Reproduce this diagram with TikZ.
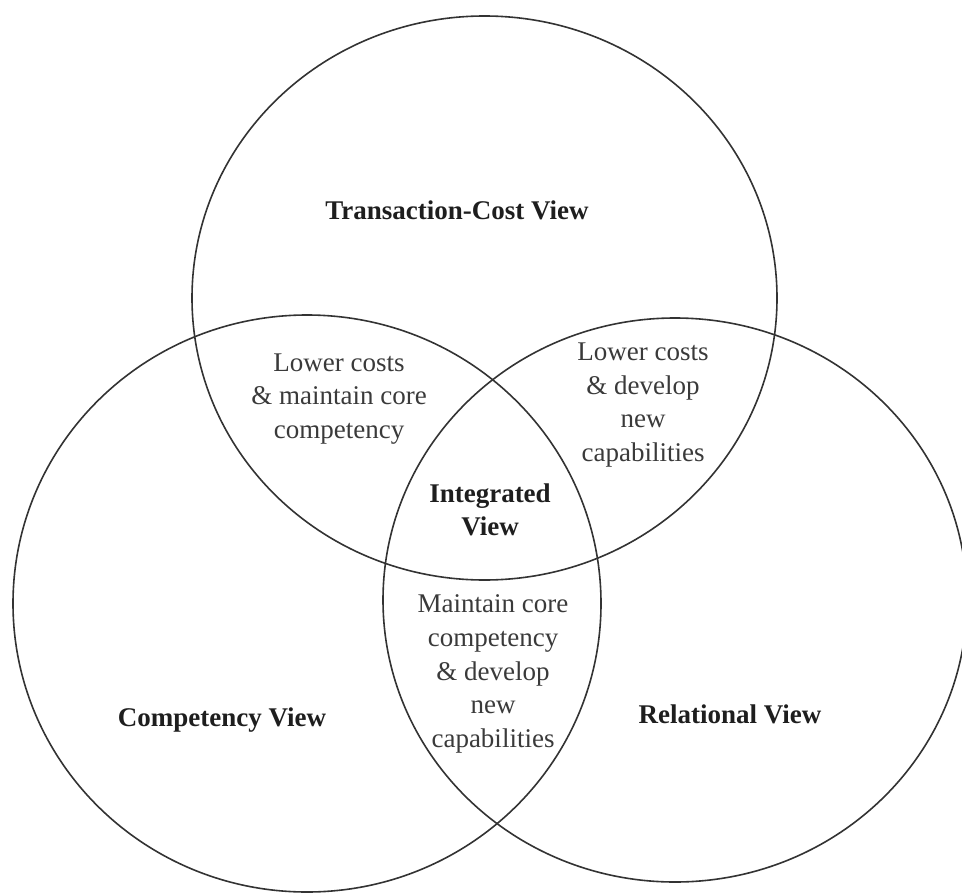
\documentclass[tikz,border=0pt]{standalone}
\usepackage{fontspec}
\setmainfont{Liberation Serif}
\usetikzlibrary{shapes.geometric}
\definecolor{linegray}{HTML}{333333}
\definecolor{textgray}{HTML}{3A3A3A}
\definecolor{boldgray}{HTML}{1E1E1E}
\begin{document}
\begin{tikzpicture}[x=0.5pt,y=-0.5pt,
  viewcircle/.style={draw=linegray, line width=0.8pt, ellipse, inner sep=0pt, outer sep=0pt},
  regiontext/.style={align=center, text=textgray, font=\fontsize{13.5pt}{16.8pt}\selectfont, inner sep=0pt},
  viewtitle/.style={align=center, text=boldgray, font=\fontsize{13.5pt}{16.8pt}\selectfont\bfseries, inner sep=0pt}]
\useasboundingbox (0,0) rectangle (962,893);
\clip (0,0) rectangle (962,893);
\node[viewcircle, minimum width=292.5pt, minimum height=282pt] (top) at (484.5,298) {};
\node[viewcircle, minimum width=294pt, minimum height=288.5pt] (left) at (307,603.5) {};
\node[viewcircle, minimum width=292pt, minimum height=282pt] (right) at (675,600) {};
\node[viewtitle] (tcv) at (457,210) {Transaction-Cost View};
\node[viewtitle] (cv) at (222,720) {Competency View};
\node[viewtitle] (rv) at (730,714) {Relational View};
\node[viewtitle] (iv) at (490,510) {Integrated\\View};
\node[regiontext] (tl) at (339,399) {Lower costs\\\& maintain core\\competency};
\node[regiontext] (tr) at (643,405) {Lower costs\\\& develop\\new\\capabilities};
\node[regiontext] (bm) at (493,674) {Maintain core\\competency\\\& develop\\new\\capabilities};
\end{tikzpicture}
\end{document}
